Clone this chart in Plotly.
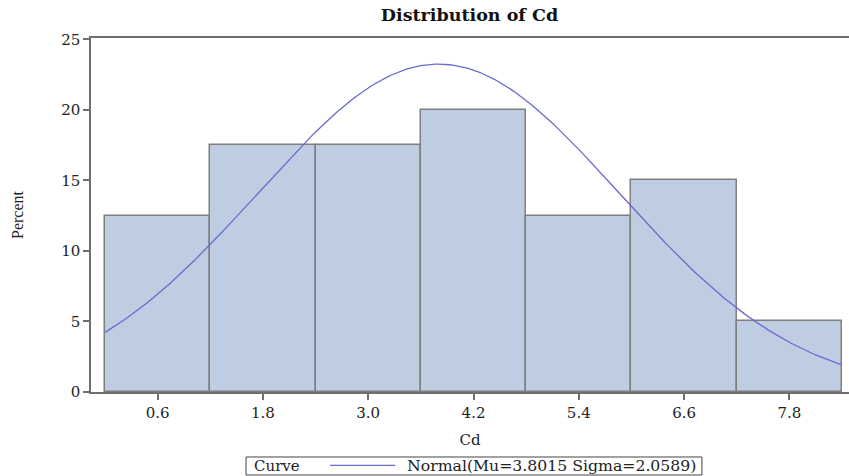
import numpy as np
import plotly.graph_objects as go

# Histogram data (bin midpoints and percent)
midpoints = [0.6, 1.8, 3.0, 4.2, 5.4, 6.6, 7.8]
percents = [12.5, 17.5, 17.5, 20.0, 12.5, 15.0, 5.0]
bin_width = 1.2
tick_vals = [0.6, 1.8, 3.0, 4.2, 5.4, 6.6, 7.8]
tick_text = ["0.6", "1.8", "3.0", "4.2", "5.4", "6.6", "7.8"]
y_ticks = [0, 5, 10, 15, 20, 25]

# Fitted normal curve parameters (from legend)
MU = 3.8015
SIGMA = 2.0589
curve_label = f"Normal(Mu={MU:.4f} Sigma={SIGMA:.4f})"

x_lo = midpoints[0] - bin_width / 2
x_hi = midpoints[-1] + bin_width / 2
xc = np.linspace(x_lo, x_hi, 300)
yc = 100 * bin_width * np.exp(-0.5 * ((xc - MU) / SIGMA) ** 2) / (SIGMA * np.sqrt(2 * np.pi))

FONT = "DejaVu Serif, serif"
FONT_NARROW = "Liberation Serif, Times New Roman, serif"
AX = "#6E6E6E"
CURVE = "#6A6AD0"

fig = go.Figure()
fig.add_trace(go.Bar(
    x=midpoints, y=percents, width=bin_width,
    marker=dict(color="#BFCDE3", line=dict(color="#7F7F7F", width=1.5)),
    showlegend=False, hoverinfo="skip",
))
fig.add_trace(go.Scatter(
    x=xc, y=yc, mode="lines",
    line=dict(color=CURVE, width=1.3),
    name=curve_label, showlegend=False,
))

# Legend box (drawn manually, SAS style)
fig.add_shape(type="rect", xref="paper", yref="paper",
              x0=0.2045, x1=0.806, y0=-0.2345, y1=-0.1836,
              line=dict(color="#444", width=1), fillcolor="white")
fig.add_shape(type="line", xref="paper", yref="paper",
              x0=0.3153, x1=0.4011, y0=-0.207, y1=-0.207,
              line=dict(color=CURVE, width=1.3))
fig.add_annotation(xref="paper", yref="paper", x=0.2124, y=-0.209,
                   xanchor="left", yanchor="middle", showarrow=False,
                   text="Curve", font=dict(family=FONT, size=15, color="#222"))
fig.add_annotation(xref="paper", yref="paper", x=0.4142, y=-0.209,
                   xanchor="left", yanchor="middle", showarrow=False,
                   text=curve_label, font=dict(family=FONT, size=15.7, color="#222"))

fig.update_layout(
    width=849, height=476,
    margin=dict(l=91, r=0, t=38, b=84, autoexpand=False),
    paper_bgcolor="white", plot_bgcolor="white",
    font=dict(family=FONT, size=15, color="#222"),
    title=dict(text="<b>Distribution of Cd</b>", x=0.553, xanchor="center",
               y=1 - 15 / 476, yanchor="middle",
               font=dict(family=FONT, size=17.5, color="#111")),
    bargap=0,
    showlegend=False,
    xaxis=dict(
        range=[-0.16, 8.48], tickvals=tick_vals, ticktext=tick_text,
        showgrid=False, zeroline=False, automargin=False,
        showline=True, linecolor=AX, linewidth=1.5, mirror=True,
        ticks="outside", ticklen=6, tickcolor=AX, tickwidth=1.5,
        title=dict(text="Cd", standoff=14, font=dict(size=15)),
        tickfont=dict(size=15),
    ),
    yaxis=dict(
        range=[0, 25.1], tickvals=y_ticks,
        showgrid=False, zeroline=False, automargin=False,
        showline=True, linecolor=AX, linewidth=1.5,
        ticks="outside", ticklen=6, tickcolor=AX, tickwidth=1.5,
        title=dict(text="Percent", standoff=34, font=dict(family=FONT_NARROW, size=16)),
        tickfont=dict(size=15),
    ),
)

fig.write_html("out.html", config={"displayModeBar": False},
               post_script="document.body.style.margin='0px';")
